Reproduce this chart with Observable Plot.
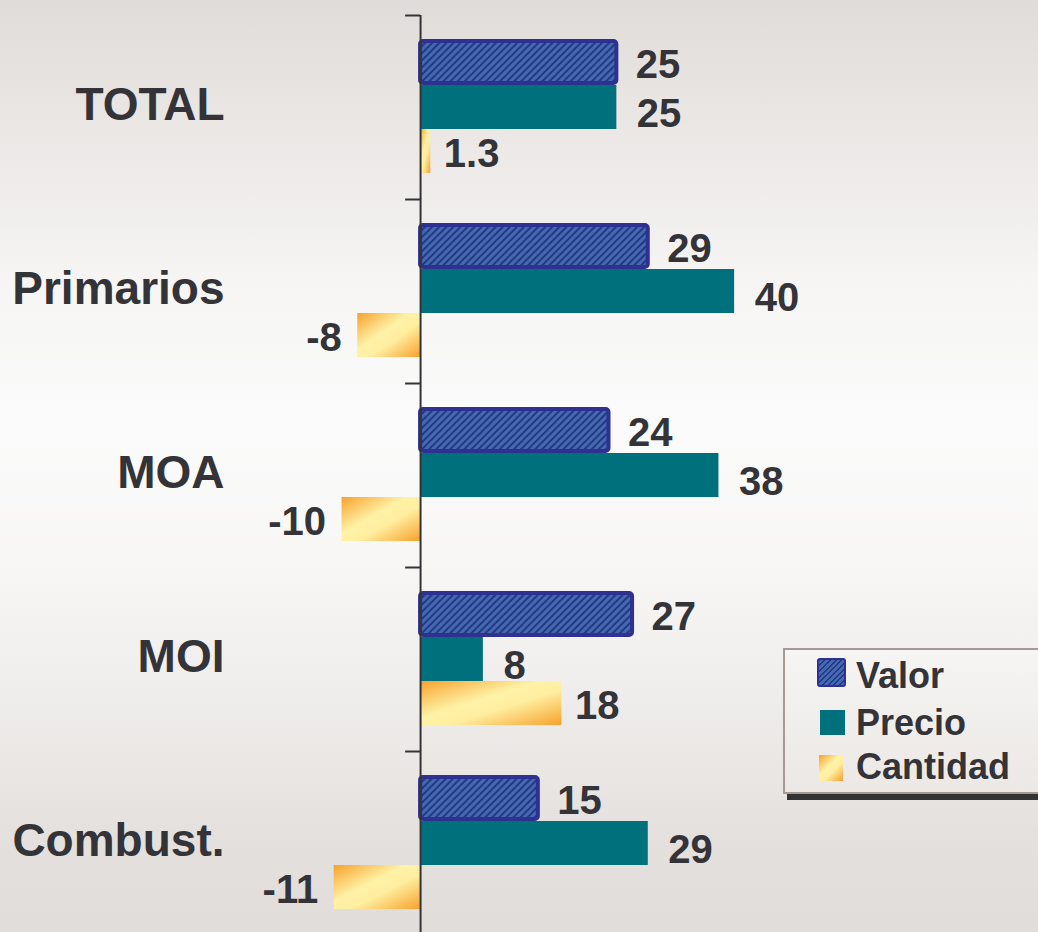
<!DOCTYPE html>
<html>
<head>
<meta charset="utf-8">
<script src="https://cdn.jsdelivr.net/npm/d3@7"></script>
<script src="https://cdn.jsdelivr.net/npm/@observablehq/plot@0.6"></script>
<style>
html, body { margin: 0; padding: 0; }
body {
  width: 1038px; height: 932px; overflow: hidden;
  background: linear-gradient(to bottom, #e0dcd9 0%, #ebe8e6 15%, #f6f5f4 30%, #fbfbfb 45%, #f8f7f6 60%, #efedeb 75%, #e4e0dd 90%, #e1ddda 100%);
  font-family: "Liberation Sans", Arial, sans-serif;
}
#wrap { position: relative; width: 1038px; height: 932px; }
#wrap svg { position: absolute; left: 0; top: 0; }
#legend {
  position: absolute; left: 783px; top: 648px; width: 280px; height: 142px;
  border: 2px solid #a39a95;
  background: linear-gradient(to bottom, #f6f5f3, #ebe8e5);
  box-shadow: 4px 6px 0 #333;
}
.sw { position: absolute; box-sizing: border-box; }
.lt { position: absolute; left: 71px; font-size: 36px; line-height: 36px; font-weight: bold; color: #333338; white-space: nowrap; }
</style>
</head>
<body>
<div id="wrap">
  <div id="chart"></div>
  <div id="legend"></div>
</div>
<script>
const categories = ["TOTAL", "Primarios", "MOA", "MOI", "Combust."];
const seriesNames = ["Valor", "Precio", "Cantidad"];
const valor = [25, 29, 24, 27, 15];
const precio = [25, 40, 38, 8, 29];
const cantidad = [1.3, -8, -10, 18, -11];

const ink = "#333338";
const font = "'Liberation Sans', Arial, sans-serif";
const tickLen = 1.9;

function labels(values, opts) {
  const base = {y: d => d, x: (d, i) => values[i], text: (d, i) => String(values[i]),
    fontSize: 40, fontWeight: "bold", fill: ink};
  return [
    Plot.text(categories, {...base, filter: (d, i) => values[i] >= 0, textAnchor: "start", dx: opts.dx, dy: opts.dy}),
    Plot.text(categories, {...base, filter: (d, i) => values[i] < 0, textAnchor: "end", dx: -opts.dxNeg, dy: opts.dy})
  ];
}

const chart = Plot.plot({
  width: 1038,
  height: 932,
  marginLeft: 0,
  marginRight: 0,
  marginTop: 15,
  marginBottom: -3,
  x: {domain: [-53.5, 78.7], axis: null},
  y: {domain: categories, padding: 0, axis: null},
  style: {background: "transparent", fontFamily: font, overflow: "visible"},
  marks: [
    Plot.barX(categories, {y: d => d, x1: 0, x2: (d, i) => valor[i], fill: "url(#hatch)", stroke: "#2e3192", strokeWidth: 4, rx: 3, insetTop: 26, insetBottom: 116}),
    Plot.barX(categories, {y: d => d, x1: 0, x2: (d, i) => precio[i], fill: "#00707c", insetTop: 70, insetBottom: 70}),
    Plot.barX(categories, {y: d => d, x1: 0, x2: (d, i) => cantidad[i], fill: "url(#cant)", insetTop: 114, insetBottom: 26}),
    Plot.ruleX([0], {stroke: ink, strokeWidth: 2}),
    Plot.ruleY(categories, {y: d => d, x1: -tickLen, x2: 0, dy: -92, stroke: ink, strokeWidth: 2}),
    Plot.text(categories, {y: d => d, text: d => d, frameAnchor: "left", dx: 224, dy: -2, textAnchor: "end", fontSize: 46, fontWeight: "bold", fill: ink}),
    ...labels(valor, {dx: 19, dxNeg: 19, dy: -42}),
    ...labels(precio, {dx: 20, dxNeg: 20, dy: 7}),
    ...labels(cantidad, {dx: 13, dxNeg: 16, dy: 47})
  ]
});

d3.select(chart).insert("defs", ":first-child").html(`
  <pattern id="hatch" width="5" height="5" patternUnits="userSpaceOnUse" patternTransform="rotate(45)">
    <rect width="5" height="5" fill="#4368b6"/>
    <rect width="2" height="5" fill="#26397c"/>
  </pattern>
  <linearGradient id="cant" x1="0" y1="0" x2="1" y2="1">
    <stop offset="0" stop-color="#f7a12c"/>
    <stop offset="0.42" stop-color="#fff2a6"/>
    <stop offset="0.6" stop-color="#ffeea0"/>
    <stop offset="1" stop-color="#f7a12c"/>
  </linearGradient>
`);
document.getElementById("chart").appendChild(chart);

// Legend
const legend = document.getElementById("legend");
const swatchStyles = {
  Valor: {left: 32, top: 8, w: 29, h: 29, css: "background: repeating-linear-gradient(-45deg, #4368b6 0 2.5px, #26397c 2.5px 4px); border: 2px solid #2e3192; border-radius: 3px;"},
  Precio: {left: 35, top: 60, w: 25, h: 25, css: "background: #00707c;"},
  Cantidad: {left: 34, top: 105, w: 24, h: 26, css: "background: linear-gradient(135deg, #f7a12c 0%, #fff2a6 42%, #ffeea0 60%, #f7a12c 100%);"}
};
const textTops = {Valor: 7.5, Precio: 54.5, Cantidad: 98.5};
seriesNames.forEach(name => {
  const s = swatchStyles[name];
  const sw = document.createElement("div");
  sw.className = "sw";
  sw.style.cssText = `left:${s.left}px;top:${s.top}px;width:${s.w}px;height:${s.h}px;` + s.css;
  legend.appendChild(sw);
  const t = document.createElement("div");
  t.className = "lt";
  t.style.top = textTops[name] + "px";
  t.textContent = name;
  legend.appendChild(t);
});
</script>
</body>
</html>
